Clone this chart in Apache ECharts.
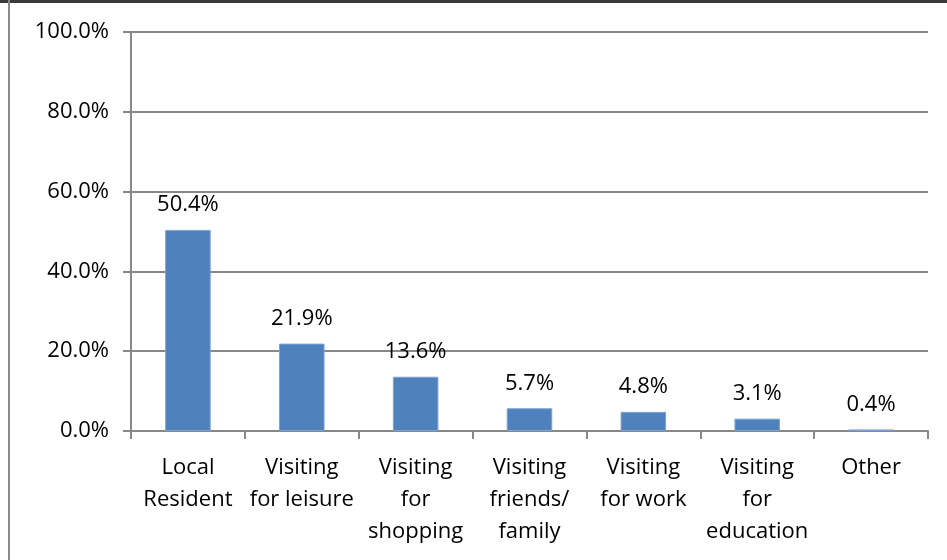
<!DOCTYPE html>
<html>
<head>
<meta charset="utf-8">
<script src="https://cdn.jsdelivr.net/npm/echarts@6/dist/echarts.min.js"></script>
<style>
  html, body { margin: 0; padding: 0; background: #fff; }
  #chart { width: 947px; height: 560px; }
</style>
</head>
<body>
<div id="chart"></div>
<script>
// Reason for visit, share of respondents (%)
const categories = [
  'Local\nResident',
  'Visiting\nfor leisure',
  'Visiting\nfor\nshopping',
  'Visiting\nfriends/\nfamily',
  'Visiting\nfor work',
  'Visiting\nfor\neducation',
  'Other'
];
const shares = [50.4, 21.9, 13.6, 5.7, 4.8, 3.1, 0.4];

const FONT = '"Open Sans", "Noto Sans", sans-serif';
const GRID_GREY = '#888888';

const chart = echarts.init(document.getElementById('chart'), null, { renderer: 'canvas' });
chart.setOption({
  backgroundColor: '#ffffff',
  animation: false,
  grid: { left: 131, right: 19, top: 32, bottom: 129 },
  graphic: [
    { type: 'rect', shape: { x: 0, y: 0, width: 947, height: 3 }, style: { fill: '#3a3a3a' } },
    { type: 'rect', shape: { x: 8, y: 0, width: 2, height: 560 }, style: { fill: '#8a8a8a' } }
  ],
  xAxis: {
    type: 'category',
    data: categories,
    boundaryGap: true,
    axisLine: { show: true, lineStyle: { color: GRID_GREY, width: 2 } },
    axisTick: { show: true, length: 8, lineStyle: { color: GRID_GREY, width: 2 } },
    axisLabel: {
      interval: 0,
      color: '#000',
      fontFamily: FONT,
      fontSize: 22,
      lineHeight: 32,
      margin: 21
    }
  },
  yAxis: {
    type: 'value',
    min: 0,
    max: 100,
    interval: 20,
    axisLine: { show: true, lineStyle: { color: GRID_GREY, width: 2 } },
    axisTick: { show: true, length: 8, lineStyle: { color: GRID_GREY, width: 2 } },
    splitLine: { show: true, lineStyle: { color: GRID_GREY, width: 2 } },
    axisLabel: {
      color: '#000',
      fontFamily: FONT,
      fontSize: 22,
      margin: 22,
      formatter: v => v.toFixed(1) + '%'
    }
  },
  series: [{
    type: 'bar',
    data: shares,
    barWidth: '40%',
    itemStyle: { color: '#4F81BD', borderColor: '#7FA3D0', borderWidth: 1 },
    label: {
      show: true,
      position: 'top',
      distance: 14,
      color: '#000',
      fontFamily: FONT,
      fontSize: 22,
      formatter: p => p.value.toFixed(1) + '%'
    }
  }]
});
</script>
</body>
</html>
